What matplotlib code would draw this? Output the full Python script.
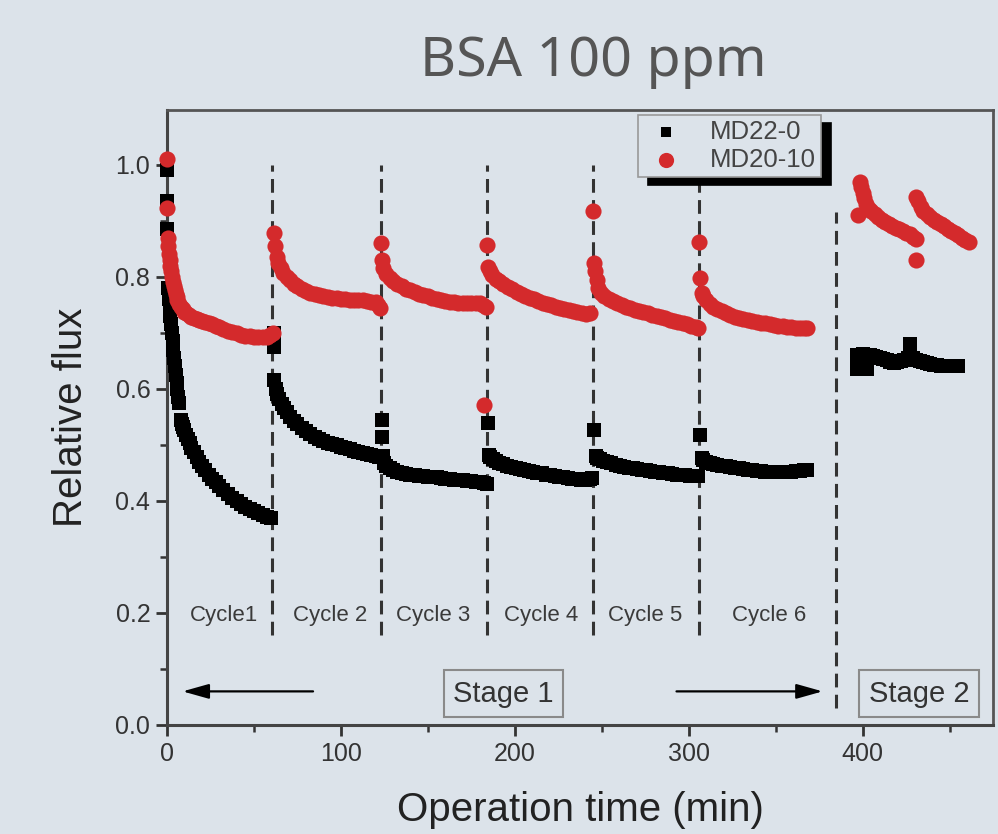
import matplotlib
matplotlib.use("Agg")
import matplotlib.pyplot as plt
import numpy as np

# ---- data: operation time (min) and relative flux ----
# MD22-0 (black squares), one list per cycle
md22_t1 = [0.3, 0.3, 0.3, 0.8, 1.2, 1.6, 2.0, 2.4, 2.8, 3.2, 3.6, 4.0, 4.5, 5.0, 5.5, 6.0,
           6.5, 7.0, 7.8, 8.5, 9.3, 10, 11, 12, 13, 14, 15.5, 17, 18.5, 20, 22, 24, 26, 28,
           30, 32.5, 35, 37.5, 40, 42.5, 45, 47.5, 50, 52.5, 55, 57.5, 60]
md22_f1 = [0.99, 0.935, 0.885, 0.78, 0.76, 0.745, 0.73, 0.715, 0.70, 0.685, 0.67, 0.655,
           0.64, 0.625, 0.61, 0.60, 0.585, 0.575, 0.545, 0.538, 0.532, 0.527, 0.518, 0.51,
           0.503, 0.495, 0.488, 0.478, 0.47, 0.462, 0.455, 0.447, 0.44, 0.433, 0.427, 0.42,
           0.413, 0.406, 0.40, 0.395, 0.39, 0.386, 0.382, 0.378, 0.375, 0.372, 0.37]
md22_t2 = [61.5, 61.5, 61.5, 62.5, 63.5, 64.5, 66, 67.5, 69, 71, 73, 75, 77.5, 80, 82.5, 85,
           87.5, 90, 92.5, 95, 97.5, 100, 102.5, 105, 107.5, 110, 112.5, 115, 117.5, 120, 122]
md22_f2 = [0.70, 0.675, 0.615, 0.60, 0.59, 0.582, 0.573, 0.565, 0.558, 0.55, 0.543, 0.537,
           0.53, 0.524, 0.519, 0.515, 0.511, 0.507, 0.504, 0.501, 0.499, 0.497, 0.494, 0.492,
           0.49, 0.488, 0.486, 0.484, 0.482, 0.48, 0.478]
md22_t3 = [123.5, 123.5, 124, 125, 126, 128, 130, 132.5, 135, 137.5, 140, 142.5, 145, 147.5,
           150, 152.5, 155, 157.5, 160, 162.5, 165, 167.5, 170, 172.5, 175, 177.5, 180, 182.5, 184]
md22_f3 = [0.545, 0.515, 0.48, 0.468, 0.462, 0.458, 0.455, 0.452, 0.45, 0.448, 0.447, 0.446,
           0.445, 0.444, 0.443, 0.443, 0.442, 0.441, 0.44, 0.439, 0.438, 0.437, 0.437, 0.436,
           0.435, 0.434, 0.433, 0.432, 0.431]
md22_t4 = [184.5, 185, 186, 187.5, 189, 191, 193, 195.5, 198, 200.5, 203, 205.5, 208, 210.5,
           213, 215.5, 218, 220.5, 223, 225.5, 228, 230.5, 233, 235.5, 238, 240.5, 243, 244.5]
md22_f4 = [0.54, 0.482, 0.478, 0.474, 0.471, 0.468, 0.466, 0.463, 0.461, 0.459, 0.457, 0.455,
           0.454, 0.452, 0.45, 0.449, 0.447, 0.446, 0.444, 0.443, 0.442, 0.441, 0.44, 0.439,
           0.438, 0.438, 0.44, 0.441]
md22_t5 = [245.5, 246.5, 247.5, 249, 251, 253, 255.5, 258, 260.5, 263, 265.5, 268, 270.5, 273,
           275.5, 278, 280.5, 283, 285.5, 288, 290.5, 293, 295.5, 298, 300.5, 303, 305.5]
md22_f5 = [0.527, 0.48, 0.477, 0.474, 0.471, 0.469, 0.467, 0.465, 0.463, 0.461, 0.459, 0.458,
           0.457, 0.456, 0.455, 0.453, 0.452, 0.451, 0.45, 0.449, 0.448, 0.447, 0.446, 0.446,
           0.445, 0.445, 0.444]
md22_t6 = [306.5, 307.5, 308.5, 310, 312, 314, 316.5, 319, 321.5, 324, 326.5, 329, 331.5, 334,
           336.5, 339, 341.5, 344, 346.5, 349, 351.5, 354, 356.5, 359, 361.5, 364, 366.5, 368]
md22_f6 = [0.518, 0.476, 0.473, 0.47, 0.468, 0.466, 0.464, 0.463, 0.462, 0.461, 0.459, 0.458,
           0.457, 0.456, 0.455, 0.454, 0.453, 0.452, 0.452, 0.452, 0.452, 0.452, 0.452, 0.452,
           0.453, 0.454, 0.455, 0.456]
md22_t7 = [397, 397, 398.5, 398.5, 400, 402, 402.5, 404, 406, 408, 410, 412, 414, 416, 418,
           420, 422, 424, 426, 427.5, 429, 431, 433, 435, 437, 439, 441, 443, 445, 447, 449,
           451, 453, 455]
md22_f7 = [0.635, 0.66, 0.66, 0.635, 0.662, 0.661, 0.635, 0.66, 0.658, 0.657, 0.655, 0.654,
           0.652, 0.648, 0.646, 0.648, 0.65, 0.652, 0.655, 0.68, 0.655, 0.652, 0.65, 0.648,
           0.646, 0.645, 0.643, 0.642, 0.641, 0.64, 0.64, 0.64, 0.64, 0.64]

# MD20-10 (red circles)
md20_t1 = [0.3, 0.3, 0.5, 0.8, 1.2, 1.6, 2.0, 2.5, 3.0, 3.5, 4.0, 4.5, 5.0, 5.5, 6.0, 7.0,
           8.0, 9.0, 10, 11, 12.5, 14, 15.5, 17, 18.5, 20, 22, 24, 26, 28, 30, 32.5, 35, 37.5,
           40, 42.5, 45, 47.5, 50, 52.5, 55, 57.5, 59.5, 61]
md20_f1 = [1.01, 0.923, 0.87, 0.855, 0.84, 0.83, 0.82, 0.81, 0.80, 0.79, 0.783, 0.776, 0.77,
           0.764, 0.759, 0.752, 0.747, 0.742, 0.738, 0.735, 0.732, 0.729, 0.727, 0.725, 0.723,
           0.721, 0.719, 0.717, 0.715, 0.712, 0.71, 0.707, 0.704, 0.701, 0.699, 0.697, 0.695,
           0.694, 0.693, 0.692, 0.692, 0.693, 0.696, 0.70]
md20_t2 = [61.5, 62, 63, 64, 65.5, 67, 69, 71, 73, 75, 77.5, 80, 82.5, 85, 87.5, 90, 92.5, 95,
           97.5, 100, 102.5, 105, 107.5, 110, 112.5, 115, 117.5, 120, 121.5, 122.5]
md20_f2 = [0.879, 0.855, 0.835, 0.825, 0.815, 0.807, 0.80, 0.794, 0.788, 0.783, 0.779, 0.775,
           0.772, 0.77, 0.768, 0.766, 0.764, 0.763, 0.762, 0.761, 0.76, 0.759, 0.759, 0.758,
           0.758, 0.757, 0.756, 0.755, 0.75, 0.745]
md20_t3 = [123, 123.5, 124.5, 126, 128, 130, 132.5, 135, 137.5, 140, 142.5, 145, 147.5, 150,
           152.5, 155, 157.5, 160, 162.5, 165, 167.5, 170, 172.5, 175, 177.5, 180, 182, 183.5]
md20_f3 = [0.86, 0.83, 0.815, 0.805, 0.798, 0.792, 0.787, 0.783, 0.779, 0.776, 0.773, 0.77,
           0.767, 0.765, 0.762, 0.76, 0.758, 0.757, 0.756, 0.755, 0.754, 0.754, 0.753, 0.753,
           0.753, 0.753, 0.75, 0.746]
md20_t4 = [182.5, 184, 184.5, 185.5, 187, 189, 191, 193.5, 196, 198.5, 201, 203.5, 206, 208.5,
           211, 213.5, 216, 218.5, 221, 223.5, 226, 228.5, 231, 233.5, 236, 238.5, 241, 243.5]
md20_f4 = [0.571, 0.857, 0.818, 0.81, 0.803, 0.797, 0.792, 0.787, 0.782, 0.778, 0.773, 0.769,
           0.766, 0.763, 0.76, 0.757, 0.754, 0.751, 0.749, 0.747, 0.745, 0.743, 0.741, 0.739,
           0.737, 0.735, 0.733, 0.735]
md20_t5 = [245, 245.5, 246, 247, 248, 249.5, 251.5, 254, 256.5, 259, 261.5, 264, 266.5, 269,
           271.5, 274, 276.5, 279, 281.5, 284, 286.5, 289, 291.5, 294, 296.5, 299, 301.5, 304, 305.5]
md20_f5 = [0.918, 0.825, 0.81, 0.795, 0.78, 0.772, 0.766, 0.761, 0.757, 0.753, 0.75, 0.747,
           0.744, 0.741, 0.739, 0.737, 0.735, 0.732, 0.73, 0.728, 0.726, 0.723, 0.721, 0.719,
           0.717, 0.715, 0.713, 0.711, 0.708]
md20_t6 = [306, 306.5, 307.5, 308.5, 310, 312, 314, 316.5, 319, 321.5, 324, 326.5, 329, 331.5,
           334, 336.5, 339, 341.5, 344, 346.5, 349, 351.5, 354, 356.5, 359, 361.5, 364, 366.5, 368]
md20_f6 = [0.862, 0.798, 0.772, 0.765, 0.758, 0.752, 0.747, 0.743, 0.739, 0.735, 0.732, 0.729,
           0.727, 0.725, 0.723, 0.721, 0.72, 0.718, 0.717, 0.715, 0.714, 0.713, 0.712, 0.711,
           0.71, 0.709, 0.709, 0.709, 0.709]
md20_t7 = [397.5, 398.5, 399, 400, 401, 402, 403.5, 405, 407, 409, 411, 413, 415, 417, 419, 421,
           423, 425, 427, 429, 430.5, 430.5, 431, 432, 433.5, 435, 437, 439, 441, 443, 445, 447,
           449, 451, 453, 455, 457, 459, 461]
md20_f7 = [0.91, 0.97, 0.96, 0.95, 0.94, 0.93, 0.922, 0.917, 0.912, 0.907, 0.902, 0.898, 0.895,
           0.891, 0.888, 0.885, 0.882, 0.879, 0.876, 0.872, 0.868, 0.83, 0.943, 0.935, 0.925,
           0.918, 0.912, 0.907, 0.902, 0.898, 0.894, 0.89, 0.886, 0.882, 0.878, 0.874, 0.87,
           0.866, 0.862]

# cycle boundaries and labels
cycle_bounds = [60.5, 123, 184, 245, 306]
stage_bound = 384.5
cycle_labels = ["Cycle1", "Cycle 2", "Cycle 3", "Cycle 4", "Cycle 5", "Cycle 6"]
cycle_label_x = [33, 94, 153, 215, 275, 346]

md22_t = md22_t1 + md22_t2 + md22_t3 + md22_t4 + md22_t5 + md22_t6 + md22_t7
md22_f = md22_f1 + md22_f2 + md22_f3 + md22_f4 + md22_f5 + md22_f6 + md22_f7
md20_t = md20_t1 + md20_t2 + md20_t3 + md20_t4 + md20_t5 + md20_t6 + md20_t7
md20_f = md20_f1 + md20_f2 + md20_f3 + md20_f4 + md20_f5 + md20_f6 + md20_f7

bg = "#dce3ea"
red = "#d42a2c"
plt.rcParams['font.family'] = ['Liberation Sans', 'DejaVu Sans']

fig = plt.figure(figsize=(9.98, 8.34), dpi=100, facecolor=bg)
ax = fig.add_axes([0.1673, 0.1307, 0.8277, 0.7375], facecolor=bg)

# dashed separators
for xb in cycle_bounds:
    ax.plot([xb, xb], [0.16, 1.0], color="#333333", lw=2.2,
            linestyle=(0, (4.5, 2.4)), zorder=1)
ax.plot([stage_bound, stage_bound], [0.03, 0.915], color="#333333", lw=2.2,
        linestyle=(0, (4.5, 2.4)), zorder=1)

ax.scatter(md22_t, md22_f, marker="s", s=115, color="black", linewidths=0,
           zorder=3, clip_on=False, label="MD22-0")
ax.scatter(md20_t, md20_f, marker="o", s=135, color=red, linewidths=0,
           zorder=4, clip_on=False, label="MD20-10")

for lab, xl in zip(cycle_labels, cycle_label_x):
    ax.text(xl, 0.196, lab, ha="center", va="center", fontsize=16, color="#3a3a3a")

# stage arrows and boxes
ax.annotate("", xy=(9, 0.06), xytext=(84, 0.06),
            arrowprops=dict(arrowstyle="-|>,head_length=1.6,head_width=0.45",
                            color="black", lw=1.6, shrinkA=0, shrinkB=0))
ax.annotate("", xy=(377, 0.06), xytext=(293, 0.06),
            arrowprops=dict(arrowstyle="-|>,head_length=1.6,head_width=0.45",
                            color="black", lw=1.6, shrinkA=0, shrinkB=0))
box = dict(boxstyle="square,pad=0.33", facecolor=bg, edgecolor="#8a8a8a", lw=1.5)
ax.text(193.5, 0.056, "Stage 1", ha="center", va="center", fontsize=21, color="#333333", bbox=box)
ax.text(432.5, 0.056, "Stage 2", ha="center", va="center", fontsize=21, color="#333333", bbox=box)

ax.set_xlim(0, 475)
ax.set_ylim(0, 1.098)
ax.set_xticks([0, 100, 200, 300, 400])
ax.set_xticks([50, 150, 250, 350, 450], minor=True)
ax.set_yticks([0.0, 0.2, 0.4, 0.6, 0.8, 1.0])
ax.set_yticks([0.1, 0.3, 0.5, 0.7, 0.9], minor=True)
ax.set_yticklabels(["0.0", "0.2", "0.4", "0.6", "0.8", "1.0"])
ax.tick_params(which="major", direction="out", length=8, width=2, color="#333333",
               labelsize=18, labelcolor="#333333", pad=4)
ax.tick_params(which="minor", direction="out", length=5, width=1.8, color="#333333")
ax.tick_params(top=False, right=False)
for side in ["left", "bottom"]:
    ax.spines[side].set_linewidth(2.2)
    ax.spines[side].set_color("#444444")
for side in ["top", "right"]:
    ax.spines[side].set_linewidth(2)
    ax.spines[side].set_color("#555555")

ax.set_xlabel("Operation time (min)", fontsize=29, color="#222222", labelpad=18)
ax.set_ylabel("Relative flux", fontsize=29, color="#222222", labelpad=18)

leg = ax.legend(loc="upper left", bbox_to_anchor=(0.570, 0.992), borderaxespad=0,
                fontsize=18.5, frameon=True, fancybox=False, handletextpad=0.8,
                borderpad=0.2, labelspacing=0.15, handlelength=1.8,
                shadow={'ox': 7.2, 'oy': -5.8, 'color': 'black', 'alpha': 1})
leg.get_frame().set_facecolor(bg)
leg.get_frame().set_edgecolor("#999999")
leg.get_frame().set_linewidth(1.2)
leg.get_frame().set_alpha(1)
for txt in leg.get_texts():
    txt.set_color("#444444")
leg.legend_handles[0].set_sizes([55])
leg.legend_handles[1].set_sizes([120])
leg.set_zorder(10)

fig.text(0.595, 0.909, "BSA 100 ppm", ha="center", va="baseline", fontsize=40,
         family="Noto Sans", color="#555555")

fig.savefig("out.png", dpi=100, facecolor=bg)
